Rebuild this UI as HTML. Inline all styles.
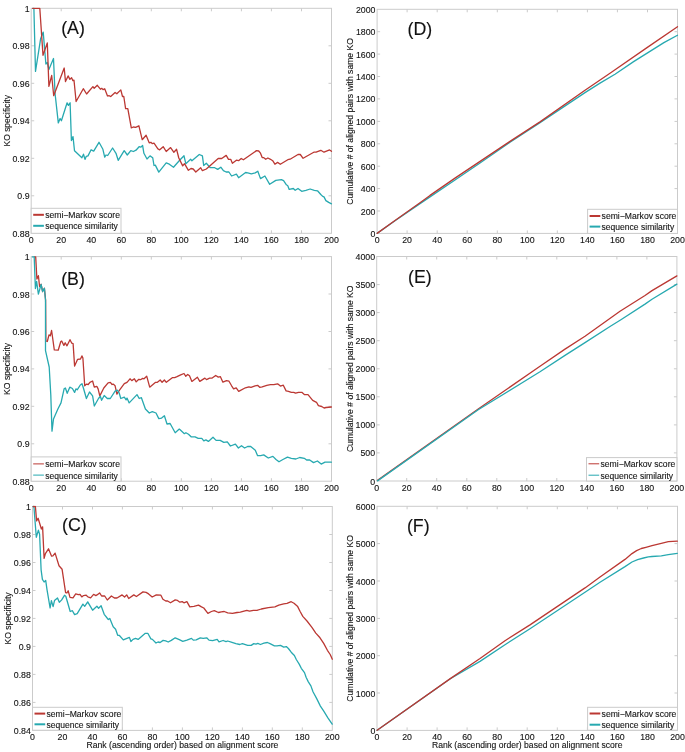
<!DOCTYPE html>
<html><head><meta charset="utf-8"><title>Figure</title>
<style>
html,body{margin:0;padding:0;background:#fff;}
body{width:685px;height:752px;overflow:hidden;}
svg{display:block;will-change:transform;}
svg text{font-family:"Liberation Sans", sans-serif;fill:#111111;font-size:8.8px;stroke:#222;stroke-width:0.12px;}
</style></head>
<body>
<svg width="685" height="752" viewBox="0 0 685 752">
<rect width="685" height="752" fill="#fff"/>
<clipPath id="cA"><rect x="30.2" y="7.3" width="302.3" height="227.0"/></clipPath>
<rect x="31.2" y="8.3" width="300.3" height="225.0" fill="none" stroke="#cbcbcb" stroke-width="1.0"/>
<text x="31.2" y="242.8" text-anchor="middle">0</text>
<line x1="61.2" y1="233.3" x2="61.2" y2="230.3" stroke="#cbcbcb" stroke-width="1"/>
<line x1="61.2" y1="8.3" x2="61.2" y2="11.3" stroke="#cbcbcb" stroke-width="1"/>
<text x="61.2" y="242.8" text-anchor="middle">20</text>
<line x1="91.3" y1="233.3" x2="91.3" y2="230.3" stroke="#cbcbcb" stroke-width="1"/>
<line x1="91.3" y1="8.3" x2="91.3" y2="11.3" stroke="#cbcbcb" stroke-width="1"/>
<text x="91.3" y="242.8" text-anchor="middle">40</text>
<line x1="121.3" y1="233.3" x2="121.3" y2="230.3" stroke="#cbcbcb" stroke-width="1"/>
<line x1="121.3" y1="8.3" x2="121.3" y2="11.3" stroke="#cbcbcb" stroke-width="1"/>
<text x="121.3" y="242.8" text-anchor="middle">60</text>
<line x1="151.3" y1="233.3" x2="151.3" y2="230.3" stroke="#cbcbcb" stroke-width="1"/>
<line x1="151.3" y1="8.3" x2="151.3" y2="11.3" stroke="#cbcbcb" stroke-width="1"/>
<text x="151.3" y="242.8" text-anchor="middle">80</text>
<line x1="181.3" y1="233.3" x2="181.3" y2="230.3" stroke="#cbcbcb" stroke-width="1"/>
<line x1="181.3" y1="8.3" x2="181.3" y2="11.3" stroke="#cbcbcb" stroke-width="1"/>
<text x="181.3" y="242.8" text-anchor="middle">100</text>
<line x1="211.4" y1="233.3" x2="211.4" y2="230.3" stroke="#cbcbcb" stroke-width="1"/>
<line x1="211.4" y1="8.3" x2="211.4" y2="11.3" stroke="#cbcbcb" stroke-width="1"/>
<text x="211.4" y="242.8" text-anchor="middle">120</text>
<line x1="241.4" y1="233.3" x2="241.4" y2="230.3" stroke="#cbcbcb" stroke-width="1"/>
<line x1="241.4" y1="8.3" x2="241.4" y2="11.3" stroke="#cbcbcb" stroke-width="1"/>
<text x="241.4" y="242.8" text-anchor="middle">140</text>
<line x1="271.4" y1="233.3" x2="271.4" y2="230.3" stroke="#cbcbcb" stroke-width="1"/>
<line x1="271.4" y1="8.3" x2="271.4" y2="11.3" stroke="#cbcbcb" stroke-width="1"/>
<text x="271.4" y="242.8" text-anchor="middle">160</text>
<line x1="301.5" y1="233.3" x2="301.5" y2="230.3" stroke="#cbcbcb" stroke-width="1"/>
<line x1="301.5" y1="8.3" x2="301.5" y2="11.3" stroke="#cbcbcb" stroke-width="1"/>
<text x="301.5" y="242.8" text-anchor="middle">180</text>
<text x="331.5" y="242.8" text-anchor="middle">200</text>
<text x="29.6" y="236.8" text-anchor="end">0.88</text>
<line x1="31.2" y1="195.8" x2="34.2" y2="195.8" stroke="#cbcbcb" stroke-width="1"/>
<line x1="331.5" y1="195.8" x2="328.5" y2="195.8" stroke="#cbcbcb" stroke-width="1"/>
<text x="29.6" y="199.3" text-anchor="end">0.9</text>
<line x1="31.2" y1="158.3" x2="34.2" y2="158.3" stroke="#cbcbcb" stroke-width="1"/>
<line x1="331.5" y1="158.3" x2="328.5" y2="158.3" stroke="#cbcbcb" stroke-width="1"/>
<text x="29.6" y="161.8" text-anchor="end">0.92</text>
<line x1="31.2" y1="120.8" x2="34.2" y2="120.8" stroke="#cbcbcb" stroke-width="1"/>
<line x1="331.5" y1="120.8" x2="328.5" y2="120.8" stroke="#cbcbcb" stroke-width="1"/>
<text x="29.6" y="124.3" text-anchor="end">0.94</text>
<line x1="31.2" y1="83.3" x2="34.2" y2="83.3" stroke="#cbcbcb" stroke-width="1"/>
<line x1="331.5" y1="83.3" x2="328.5" y2="83.3" stroke="#cbcbcb" stroke-width="1"/>
<text x="29.6" y="86.8" text-anchor="end">0.96</text>
<line x1="31.2" y1="45.8" x2="34.2" y2="45.8" stroke="#cbcbcb" stroke-width="1"/>
<line x1="331.5" y1="45.8" x2="328.5" y2="45.8" stroke="#cbcbcb" stroke-width="1"/>
<text x="29.6" y="49.3" text-anchor="end">0.98</text>
<text x="29.6" y="11.8" text-anchor="end">1</text>
<g clip-path="url(#cA)">
<polyline points="32.7,8.3 33.9,8.5 35.5,71.4 40.6,38.8 43.2,32.1 45.9,64.0 47.3,62.5 48.9,69.5 53.5,58.5 55.0,93.0 58.3,122.9 60.1,118.5 61.4,120.7 67.1,102.8 68.4,105.4 70.1,102.8 71.4,140.6 73.0,136.6 74.5,150.7 81.9,157.7 83.5,154.2 85.0,159.4 86.3,156.3 88.0,155.9 91.1,149.8 93.7,151.1 99.0,142.3 102.9,149.3 104.7,157.2 106.0,155.0 107.7,155.5 112.6,148.0 116.0,153.3 118.2,160.3 124.2,150.7 127.3,155.0 130.8,150.7 133.4,151.5 136.0,150.2 139.1,146.7 140.8,147.2 142.6,145.4 143.9,153.3 147.0,159.0 150.0,155.9 152.7,157.7 154.0,165.5 155.3,165.1 158.8,172.1 166.2,162.9 169.3,164.2 173.5,167.2 180.1,159.8 184.0,155.8 185.8,163.7 190.6,159.3 191.9,160.7 199.3,154.5 202.4,155.8 203.7,165.5 206.3,163.3 210.3,167.7 214.7,167.7 217.7,169.4 220.8,167.2 223.4,170.7 226.1,172.0 228.9,172.0 231.6,176.0 236.4,174.2 238.6,177.7 245.6,172.5 247.8,172.9 251.3,173.8 255.2,172.9 257.8,171.2 260.5,178.6 264.9,176.0 269.7,184.3 275.8,180.4 281.4,179.6 283.6,180.6 286.4,184.8 287.8,185.7 289.2,189.4 293.3,188.5 295.2,190.3 298.0,188.5 301.7,191.3 305.9,190.3 310.1,189.0 314.3,190.3 317.5,190.8 320.8,194.5 322.7,196.4 324.0,196.9 325.9,200.6 328.7,202.4 331.5,203.8" fill="none" stroke="#27a9b0" stroke-width="1.3" stroke-linejoin="round" stroke-linecap="round"/>
<polyline points="32.7,8.3 39.8,8.3 43.0,55.3 47.3,42.9 48.9,86.4 51.7,75.5 53.7,95.7 64.2,68.0 65.5,81.6 68.1,75.9 69.9,79.4 71.6,77.7 72.9,80.7 74.0,80.2 76.1,101.5 83.3,88.7 86.6,94.0 92.9,86.6 94.2,88.3 97.3,85.3 100.4,89.2 101.7,88.3 103.0,89.6 104.7,88.8 107.5,96.0 108.9,95.6 110.7,96.5 115.1,92.5 116.8,93.8 120.8,89.9 122.5,96.5 123.8,96.5 125.6,108.7 127.8,108.7 131.3,127.8 133.4,127.0 135.6,127.4 138.9,125.8 142.2,139.7 146.1,135.3 149.2,142.8 150.9,142.3 152.2,143.6 154.0,143.2 157.9,148.9 159.7,149.8 163.2,146.7 166.2,151.5 170.6,147.6 173.9,152.3 176.6,149.3 178.8,158.0 182.7,165.9 184.5,163.7 188.4,170.3 191.0,168.5 193.2,169.0 195.8,172.0 200.7,167.7 202.4,170.7 206.3,169.0 210.3,165.5 218.2,158.5 221.7,158.5 226.2,155.4 228.5,159.3 230.7,159.3 232.4,163.3 236.4,160.2 238.6,160.7 241.2,158.5 243.4,159.8 256.5,150.6 258.7,151.0 260.5,153.2 262.2,157.6 263.5,157.6 265.7,159.3 267.9,158.0 270.5,159.3 272.7,160.7 274.9,164.2 277.6,162.4 280.3,164.3 287.8,159.7 290.1,159.2 298.0,154.5 300.3,154.5 303.1,158.3 313.8,152.2 316.1,152.2 320.8,150.3 324.0,152.2 329.6,149.9 331.5,151.3" fill="none" stroke="#bb3833" stroke-width="1.3" stroke-linejoin="round" stroke-linecap="round"/>
</g>
<text transform="translate(9.6,120.8) rotate(-90)" text-anchor="middle" style="font-size:8.60px" textLength="51.4" lengthAdjust="spacingAndGlyphs">KO specificity</text>
<text x="61.2" y="33.7" style="font-size:17.8px">(A)</text>
<rect x="31.2" y="208.3" width="89.8" height="25.0" fill="#fff" stroke="#cbcbcb" stroke-width="1"/>
<line x1="33.2" y1="214.8" x2="43.9" y2="214.8" stroke="#bb3833" stroke-width="2.0"/>
<line x1="33.2" y1="225.8" x2="43.9" y2="225.8" stroke="#27a9b0" stroke-width="2.0"/>
<text x="45.2" y="218.2" style="font-size:8.6px" textLength="74.8" lengthAdjust="spacingAndGlyphs">semi&#8722;Markov score</text>
<text x="45.2" y="229.2" style="font-size:8.6px" textLength="72.6" lengthAdjust="spacingAndGlyphs">sequence similarity</text>
<clipPath id="cB"><rect x="30.2" y="255.6" width="302.3" height="226.6"/></clipPath>
<rect x="31.2" y="256.6" width="300.3" height="224.6" fill="none" stroke="#cbcbcb" stroke-width="1.0"/>
<text x="31.2" y="490.7" text-anchor="middle">0</text>
<line x1="61.2" y1="481.2" x2="61.2" y2="478.2" stroke="#cbcbcb" stroke-width="1"/>
<line x1="61.2" y1="256.6" x2="61.2" y2="259.6" stroke="#cbcbcb" stroke-width="1"/>
<text x="61.2" y="490.7" text-anchor="middle">20</text>
<line x1="91.3" y1="481.2" x2="91.3" y2="478.2" stroke="#cbcbcb" stroke-width="1"/>
<line x1="91.3" y1="256.6" x2="91.3" y2="259.6" stroke="#cbcbcb" stroke-width="1"/>
<text x="91.3" y="490.7" text-anchor="middle">40</text>
<line x1="121.3" y1="481.2" x2="121.3" y2="478.2" stroke="#cbcbcb" stroke-width="1"/>
<line x1="121.3" y1="256.6" x2="121.3" y2="259.6" stroke="#cbcbcb" stroke-width="1"/>
<text x="121.3" y="490.7" text-anchor="middle">60</text>
<line x1="151.3" y1="481.2" x2="151.3" y2="478.2" stroke="#cbcbcb" stroke-width="1"/>
<line x1="151.3" y1="256.6" x2="151.3" y2="259.6" stroke="#cbcbcb" stroke-width="1"/>
<text x="151.3" y="490.7" text-anchor="middle">80</text>
<line x1="181.3" y1="481.2" x2="181.3" y2="478.2" stroke="#cbcbcb" stroke-width="1"/>
<line x1="181.3" y1="256.6" x2="181.3" y2="259.6" stroke="#cbcbcb" stroke-width="1"/>
<text x="181.3" y="490.7" text-anchor="middle">100</text>
<line x1="211.4" y1="481.2" x2="211.4" y2="478.2" stroke="#cbcbcb" stroke-width="1"/>
<line x1="211.4" y1="256.6" x2="211.4" y2="259.6" stroke="#cbcbcb" stroke-width="1"/>
<text x="211.4" y="490.7" text-anchor="middle">120</text>
<line x1="241.4" y1="481.2" x2="241.4" y2="478.2" stroke="#cbcbcb" stroke-width="1"/>
<line x1="241.4" y1="256.6" x2="241.4" y2="259.6" stroke="#cbcbcb" stroke-width="1"/>
<text x="241.4" y="490.7" text-anchor="middle">140</text>
<line x1="271.4" y1="481.2" x2="271.4" y2="478.2" stroke="#cbcbcb" stroke-width="1"/>
<line x1="271.4" y1="256.6" x2="271.4" y2="259.6" stroke="#cbcbcb" stroke-width="1"/>
<text x="271.4" y="490.7" text-anchor="middle">160</text>
<line x1="301.5" y1="481.2" x2="301.5" y2="478.2" stroke="#cbcbcb" stroke-width="1"/>
<line x1="301.5" y1="256.6" x2="301.5" y2="259.6" stroke="#cbcbcb" stroke-width="1"/>
<text x="301.5" y="490.7" text-anchor="middle">180</text>
<text x="331.5" y="490.7" text-anchor="middle">200</text>
<text x="29.6" y="484.7" text-anchor="end">0.88</text>
<line x1="31.2" y1="443.8" x2="34.2" y2="443.8" stroke="#cbcbcb" stroke-width="1"/>
<line x1="331.5" y1="443.8" x2="328.5" y2="443.8" stroke="#cbcbcb" stroke-width="1"/>
<text x="29.6" y="447.3" text-anchor="end">0.9</text>
<line x1="31.2" y1="406.3" x2="34.2" y2="406.3" stroke="#cbcbcb" stroke-width="1"/>
<line x1="331.5" y1="406.3" x2="328.5" y2="406.3" stroke="#cbcbcb" stroke-width="1"/>
<text x="29.6" y="409.8" text-anchor="end">0.92</text>
<line x1="31.2" y1="368.9" x2="34.2" y2="368.9" stroke="#cbcbcb" stroke-width="1"/>
<line x1="331.5" y1="368.9" x2="328.5" y2="368.9" stroke="#cbcbcb" stroke-width="1"/>
<text x="29.6" y="372.4" text-anchor="end">0.94</text>
<line x1="31.2" y1="331.5" x2="34.2" y2="331.5" stroke="#cbcbcb" stroke-width="1"/>
<line x1="331.5" y1="331.5" x2="328.5" y2="331.5" stroke="#cbcbcb" stroke-width="1"/>
<text x="29.6" y="335.0" text-anchor="end">0.96</text>
<line x1="31.2" y1="294.0" x2="34.2" y2="294.0" stroke="#cbcbcb" stroke-width="1"/>
<line x1="331.5" y1="294.0" x2="328.5" y2="294.0" stroke="#cbcbcb" stroke-width="1"/>
<text x="29.6" y="297.5" text-anchor="end">0.98</text>
<text x="29.6" y="260.1" text-anchor="end">1</text>
<g clip-path="url(#cB)">
<polyline points="34.5,256.9 35.7,256.9 36.9,279.0 38.4,275.7 39.6,286.7 41.1,284.3 42.6,291.5 44.4,288.2 45.6,300.0 45.9,341.0 47.3,341.5 49.0,334.9 50.3,335.8 51.6,330.5 54.3,349.8 58.2,350.2 60.8,341.5 61.7,341.0 63.9,345.4 65.2,342.8 67.0,345.8 70.0,339.7 71.8,343.2 73.1,343.6 74.6,366.1 77.5,359.4 80.5,359.0 81.9,355.9 82.9,358.0 84.7,385.8 86.4,384.1 88.2,384.5 89.9,382.3 92.6,381.0 94.3,387.2 96.8,386.3 98.1,388.9 99.8,395.9 103.8,388.0 108.1,382.8 110.3,382.3 112.1,384.5 113.4,384.1 115.1,385.8 116.9,394.2 119.5,390.2 124.3,383.7 127.0,382.3 130.0,378.8 131.8,380.6 134.4,378.8 136.2,381.9 138.8,379.3 140.5,379.7 142.7,378.4 144.0,378.8 146.7,376.2 149.7,387.2 155.6,382.3 157.4,382.3 160.2,380.0 162.1,382.3 164.4,380.0 166.3,382.3 172.3,377.7 174.7,377.7 177.0,376.7 180.7,374.9 184.0,373.5 185.8,376.3 187.7,374.4 189.5,375.8 191.9,381.4 197.4,377.2 199.8,381.4 204.9,378.1 206.5,379.6 209.6,378.1 212.2,378.1 215.7,375.5 218.3,377.1 220.3,376.6 222.9,382.2 226.5,380.7 229.0,381.2 231.6,385.8 233.6,388.8 236.2,387.8 238.7,391.4 245.4,387.8 248.9,386.8 251.0,387.3 255.1,385.8 257.6,385.3 259.7,387.3 262.2,386.8 266.8,385.3 270.4,384.7 273.8,384.7 277.6,383.8 280.4,386.1 283.3,385.2 286.1,390.9 288.5,391.3 291.3,392.3 293.7,392.3 295.6,393.2 298.5,392.3 301.8,392.3 304.6,394.7 308.0,394.7 312.7,400.4 316.5,402.3 318.4,405.6 321.7,406.5 324.1,408.0 326.0,407.5 331.4,407.0" fill="none" stroke="#bb3833" stroke-width="1.3" stroke-linejoin="round" stroke-linecap="round"/>
<polyline points="32.4,256.9 34.2,256.9 35.4,288.5 36.6,281.3 38.4,294.2 41.1,284.3 42.6,291.5 44.4,288.2 45.5,300.0 45.5,350.7 49.2,367.0 50.8,395.0 52.0,431.2 53.5,419.0 58.0,408.8 61.0,402.9 64.1,388.9 65.4,388.0 67.2,393.3 69.8,387.2 72.4,388.5 74.6,392.4 75.9,388.9 77.2,389.8 80.3,385.0 82.0,383.7 83.4,388.0 86.4,398.5 89.5,392.0 92.6,395.9 94.3,406.0 98.5,398.5 100.3,396.3 101.6,400.3 104.2,395.5 107.3,398.5 110.3,398.5 115.1,391.1 117.3,390.2 119.1,392.8 120.8,398.5 124.3,397.2 126.1,399.9 127.0,398.1 129.2,402.9 137.0,394.6 139.2,398.5 141.4,397.7 145.4,409.0 149.3,413.0 152.3,411.6 156.0,413.0 158.8,418.6 161.6,418.1 164.4,415.8 167.0,424.0 170.1,423.5 175.2,432.7 179.3,429.1 184.4,433.7 185.9,432.7 188.5,434.2 191.1,436.8 195.1,436.8 198.2,438.3 201.8,438.3 203.8,440.9 205.9,439.9 208.4,441.4 213.0,437.3 216.1,440.4 220.2,440.4 223.8,442.4 227.3,441.9 230.4,446.0 235.4,444.2 238.4,448.0 241.5,445.7 244.6,448.0 247.6,446.5 250.7,446.5 255.3,450.3 257.6,455.7 260.7,455.7 263.7,454.9 268.3,458.0 272.9,456.4 276.0,459.5 279.0,461.8 282.9,459.5 287.5,457.2 291.3,458.4 295.9,459.0 299.7,457.5 304.3,458.3 306.6,460.0 309.7,460.0 313.5,462.6 317.4,461.0 321.2,464.1 325.0,462.1 331.4,462.2" fill="none" stroke="#27a9b0" stroke-width="1.3" stroke-linejoin="round" stroke-linecap="round"/>
</g>
<text transform="translate(9.6,368.9) rotate(-90)" text-anchor="middle" style="font-size:8.60px" textLength="52.0" lengthAdjust="spacingAndGlyphs">KO specificity</text>
<text x="61.2" y="284.6" style="font-size:17.8px">(B)</text>
<rect x="31.2" y="456.9" width="89.8" height="24.3" fill="#fff" stroke="#cbcbcb" stroke-width="1"/>
<line x1="33.2" y1="463.9" x2="43.9" y2="463.9" stroke="#bb3833" stroke-width="1.0"/>
<line x1="33.2" y1="475.1" x2="43.9" y2="475.1" stroke="#27a9b0" stroke-width="1.0"/>
<text x="45.2" y="467.3" style="font-size:8.6px" textLength="74.8" lengthAdjust="spacingAndGlyphs">semi&#8722;Markov score</text>
<text x="45.2" y="478.5" style="font-size:8.6px" textLength="72.6" lengthAdjust="spacingAndGlyphs">sequence similarity</text>
<clipPath id="cC"><rect x="31.5" y="505.5" width="301.8" height="225.9"/></clipPath>
<rect x="32.5" y="506.5" width="299.8" height="223.9" fill="none" stroke="#cbcbcb" stroke-width="1.0"/>
<text x="32.5" y="739.9" text-anchor="middle">0</text>
<line x1="62.5" y1="730.4" x2="62.5" y2="727.4" stroke="#cbcbcb" stroke-width="1"/>
<line x1="62.5" y1="506.5" x2="62.5" y2="509.5" stroke="#cbcbcb" stroke-width="1"/>
<text x="62.5" y="739.9" text-anchor="middle">20</text>
<line x1="92.5" y1="730.4" x2="92.5" y2="727.4" stroke="#cbcbcb" stroke-width="1"/>
<line x1="92.5" y1="506.5" x2="92.5" y2="509.5" stroke="#cbcbcb" stroke-width="1"/>
<text x="92.5" y="739.9" text-anchor="middle">40</text>
<line x1="122.4" y1="730.4" x2="122.4" y2="727.4" stroke="#cbcbcb" stroke-width="1"/>
<line x1="122.4" y1="506.5" x2="122.4" y2="509.5" stroke="#cbcbcb" stroke-width="1"/>
<text x="122.4" y="739.9" text-anchor="middle">60</text>
<line x1="152.4" y1="730.4" x2="152.4" y2="727.4" stroke="#cbcbcb" stroke-width="1"/>
<line x1="152.4" y1="506.5" x2="152.4" y2="509.5" stroke="#cbcbcb" stroke-width="1"/>
<text x="152.4" y="739.9" text-anchor="middle">80</text>
<line x1="182.4" y1="730.4" x2="182.4" y2="727.4" stroke="#cbcbcb" stroke-width="1"/>
<line x1="182.4" y1="506.5" x2="182.4" y2="509.5" stroke="#cbcbcb" stroke-width="1"/>
<text x="182.4" y="739.9" text-anchor="middle">100</text>
<line x1="212.4" y1="730.4" x2="212.4" y2="727.4" stroke="#cbcbcb" stroke-width="1"/>
<line x1="212.4" y1="506.5" x2="212.4" y2="509.5" stroke="#cbcbcb" stroke-width="1"/>
<text x="212.4" y="739.9" text-anchor="middle">120</text>
<line x1="242.4" y1="730.4" x2="242.4" y2="727.4" stroke="#cbcbcb" stroke-width="1"/>
<line x1="242.4" y1="506.5" x2="242.4" y2="509.5" stroke="#cbcbcb" stroke-width="1"/>
<text x="242.4" y="739.9" text-anchor="middle">140</text>
<line x1="272.3" y1="730.4" x2="272.3" y2="727.4" stroke="#cbcbcb" stroke-width="1"/>
<line x1="272.3" y1="506.5" x2="272.3" y2="509.5" stroke="#cbcbcb" stroke-width="1"/>
<text x="272.3" y="739.9" text-anchor="middle">160</text>
<line x1="302.3" y1="730.4" x2="302.3" y2="727.4" stroke="#cbcbcb" stroke-width="1"/>
<line x1="302.3" y1="506.5" x2="302.3" y2="509.5" stroke="#cbcbcb" stroke-width="1"/>
<text x="302.3" y="739.9" text-anchor="middle">180</text>
<text x="332.3" y="739.9" text-anchor="middle">200</text>
<text x="30.9" y="733.9" text-anchor="end">0.84</text>
<line x1="32.5" y1="702.4" x2="35.5" y2="702.4" stroke="#cbcbcb" stroke-width="1"/>
<line x1="332.3" y1="702.4" x2="329.3" y2="702.4" stroke="#cbcbcb" stroke-width="1"/>
<text x="30.9" y="705.9" text-anchor="end">0.86</text>
<line x1="32.5" y1="674.4" x2="35.5" y2="674.4" stroke="#cbcbcb" stroke-width="1"/>
<line x1="332.3" y1="674.4" x2="329.3" y2="674.4" stroke="#cbcbcb" stroke-width="1"/>
<text x="30.9" y="677.9" text-anchor="end">0.88</text>
<line x1="32.5" y1="646.4" x2="35.5" y2="646.4" stroke="#cbcbcb" stroke-width="1"/>
<line x1="332.3" y1="646.4" x2="329.3" y2="646.4" stroke="#cbcbcb" stroke-width="1"/>
<text x="30.9" y="649.9" text-anchor="end">0.9</text>
<line x1="32.5" y1="618.4" x2="35.5" y2="618.4" stroke="#cbcbcb" stroke-width="1"/>
<line x1="332.3" y1="618.4" x2="329.3" y2="618.4" stroke="#cbcbcb" stroke-width="1"/>
<text x="30.9" y="621.9" text-anchor="end">0.92</text>
<line x1="32.5" y1="590.5" x2="35.5" y2="590.5" stroke="#cbcbcb" stroke-width="1"/>
<line x1="332.3" y1="590.5" x2="329.3" y2="590.5" stroke="#cbcbcb" stroke-width="1"/>
<text x="30.9" y="594.0" text-anchor="end">0.94</text>
<line x1="32.5" y1="562.5" x2="35.5" y2="562.5" stroke="#cbcbcb" stroke-width="1"/>
<line x1="332.3" y1="562.5" x2="329.3" y2="562.5" stroke="#cbcbcb" stroke-width="1"/>
<text x="30.9" y="566.0" text-anchor="end">0.96</text>
<line x1="32.5" y1="534.5" x2="35.5" y2="534.5" stroke="#cbcbcb" stroke-width="1"/>
<line x1="332.3" y1="534.5" x2="329.3" y2="534.5" stroke="#cbcbcb" stroke-width="1"/>
<text x="30.9" y="538.0" text-anchor="end">0.98</text>
<text x="30.9" y="510.0" text-anchor="end">1</text>
<g clip-path="url(#cC)">
<polyline points="33.0,506.5 33.9,506.5 36.3,537.3 38.4,530.1 39.6,534.3 41.1,569.8 42.4,579.4 44.1,582.0 45.7,580.4 47.0,589.6 50.1,608.0 51.4,600.6 53.1,606.7 54.5,600.6 57.5,598.0 59.3,602.3 61.5,600.1 64.5,595.3 65.8,596.2 70.2,611.5 72.4,610.7 74.6,614.6 77.2,613.7 82.9,604.1 84.7,606.3 87.7,601.9 92.6,610.2 96.9,606.3 98.6,608.2 101.1,605.7 104.2,614.3 108.3,619.5 109.8,618.4 113.2,626.8 115.6,629.2 117.7,635.3 119.2,635.3 123.3,639.9 129.4,637.4 130.9,641.5 133.0,639.4 135.5,638.4 138.1,639.4 145.3,633.3 147.8,633.3 150.9,638.9 152.4,639.4 156.0,643.0 158.0,642.0 160.1,642.5 163.1,640.4 165.7,640.9 168.2,642.0 171.3,640.4 175.2,637.8 179.3,639.6 182.8,641.3 186.9,640.1 191.5,638.4 193.3,640.1 196.2,639.8 200.3,637.8 203.2,638.4 206.7,637.8 209.0,640.1 212.6,640.7 217.2,639.3 219.0,641.9 223.1,640.5 226.0,641.7 227.7,641.0 231.2,642.1 235.9,643.6 239.8,644.5 242.4,643.6 247.7,645.4 251.2,645.4 253.8,643.6 256.0,644.1 257.8,643.4 260.4,644.5 263.9,643.2 267.4,642.5 270.0,643.6 274.4,645.8 277.0,645.8 280.5,645.4 283.7,647.1 286.3,646.6 288.4,648.5 291.2,652.2 294.4,655.5 296.3,659.5 299.2,664.1 301.3,668.3 304.5,672.6 306.1,677.3 308.2,681.6 310.9,685.9 313.0,691.7 316.7,698.6 320.4,706.1 323.6,710.9 327.9,717.8 332.2,724.1" fill="none" stroke="#27a9b0" stroke-width="1.3" stroke-linejoin="round" stroke-linecap="round"/>
<polyline points="33.3,506.5 35.4,506.5 36.6,520.9 38.1,518.2 41.4,529.0 42.6,526.9 44.1,558.4 45.4,553.6 48.5,548.8 51.6,556.2 52.9,555.8 55.1,553.1 59.0,565.8 62.1,569.3 65.6,592.6 66.9,593.0 68.2,590.8 70.0,597.4 73.0,597.8 75.7,593.9 78.3,594.7 80.0,594.3 81.8,596.9 83.5,595.6 86.2,595.2 87.9,596.9 90.6,597.8 93.6,594.3 95.8,595.6 97.0,594.9 99.6,592.9 101.6,596.0 104.7,596.0 107.3,600.0 111.4,596.0 114.4,598.0 117.0,598.0 122.1,594.9 124.6,597.0 126.7,594.9 128.7,598.5 133.8,594.9 136.4,596.5 143.0,591.9 146.1,592.4 148.6,593.9 152.2,597.0 156.3,594.9 160.9,595.2 162.9,599.3 165.8,601.0 167.6,601.0 170.5,602.8 175.2,599.9 177.5,600.4 179.9,602.2 182.2,601.6 183.9,602.8 186.9,601.6 189.8,606.9 193.9,606.3 198.5,605.1 201.5,606.9 203.8,608.0 207.9,613.3 211.4,611.5 214.3,610.6 218.4,612.5 221.3,611.8 224.2,611.5 227.7,612.9 232.4,613.3 237.1,612.5 240.3,612.1 246.8,610.3 249.5,611.2 253.4,610.3 256.9,610.3 261.3,609.0 268.3,607.7 274.9,606.8 278.8,605.1 283.7,603.8 287.0,603.4 291.2,601.7 294.0,603.2 297.7,606.6 300.0,611.3 302.8,616.4 307.0,621.0 312.1,627.6 315.8,633.1 320.0,637.8 323.7,643.4 327.4,650.3 330.2,654.5 332.3,659.2" fill="none" stroke="#bb3833" stroke-width="1.3" stroke-linejoin="round" stroke-linecap="round"/>
</g>
<text transform="translate(11.0,618.5) rotate(-90)" text-anchor="middle" style="font-size:8.60px" textLength="52.2" lengthAdjust="spacingAndGlyphs">KO specificity</text>
<text x="62.1" y="531.1" style="font-size:17.8px">(C)</text>
<rect x="32.5" y="707.3" width="89.8" height="22.9" fill="#fff" stroke="#cbcbcb" stroke-width="1"/>
<line x1="34.5" y1="713.6" x2="45.2" y2="713.6" stroke="#bb3833" stroke-width="2.0"/>
<line x1="34.5" y1="724.3" x2="45.2" y2="724.3" stroke="#27a9b0" stroke-width="2.0"/>
<text x="46.5" y="717.0" style="font-size:8.6px" textLength="74.8" lengthAdjust="spacingAndGlyphs">semi&#8722;Markov score</text>
<text x="46.5" y="727.7" style="font-size:8.6px" textLength="72.6" lengthAdjust="spacingAndGlyphs">sequence similarity</text>
<text x="182.4" y="747.8" text-anchor="middle" style="font-size:8.6px" textLength="192.0" lengthAdjust="spacingAndGlyphs">Rank (ascending order) based on alignment score</text>
<clipPath id="cD"><rect x="376.1" y="8.3" width="302.4" height="226.1"/></clipPath>
<rect x="377.1" y="9.3" width="300.4" height="224.1" fill="none" stroke="#cbcbcb" stroke-width="1.0"/>
<text x="377.1" y="242.9" text-anchor="middle">0</text>
<line x1="407.1" y1="233.4" x2="407.1" y2="230.4" stroke="#cbcbcb" stroke-width="1"/>
<line x1="407.1" y1="9.3" x2="407.1" y2="12.3" stroke="#cbcbcb" stroke-width="1"/>
<text x="407.1" y="242.9" text-anchor="middle">20</text>
<line x1="437.2" y1="233.4" x2="437.2" y2="230.4" stroke="#cbcbcb" stroke-width="1"/>
<line x1="437.2" y1="9.3" x2="437.2" y2="12.3" stroke="#cbcbcb" stroke-width="1"/>
<text x="437.2" y="242.9" text-anchor="middle">40</text>
<line x1="467.2" y1="233.4" x2="467.2" y2="230.4" stroke="#cbcbcb" stroke-width="1"/>
<line x1="467.2" y1="9.3" x2="467.2" y2="12.3" stroke="#cbcbcb" stroke-width="1"/>
<text x="467.2" y="242.9" text-anchor="middle">60</text>
<line x1="497.3" y1="233.4" x2="497.3" y2="230.4" stroke="#cbcbcb" stroke-width="1"/>
<line x1="497.3" y1="9.3" x2="497.3" y2="12.3" stroke="#cbcbcb" stroke-width="1"/>
<text x="497.3" y="242.9" text-anchor="middle">80</text>
<line x1="527.3" y1="233.4" x2="527.3" y2="230.4" stroke="#cbcbcb" stroke-width="1"/>
<line x1="527.3" y1="9.3" x2="527.3" y2="12.3" stroke="#cbcbcb" stroke-width="1"/>
<text x="527.3" y="242.9" text-anchor="middle">100</text>
<line x1="557.3" y1="233.4" x2="557.3" y2="230.4" stroke="#cbcbcb" stroke-width="1"/>
<line x1="557.3" y1="9.3" x2="557.3" y2="12.3" stroke="#cbcbcb" stroke-width="1"/>
<text x="557.3" y="242.9" text-anchor="middle">120</text>
<line x1="587.4" y1="233.4" x2="587.4" y2="230.4" stroke="#cbcbcb" stroke-width="1"/>
<line x1="587.4" y1="9.3" x2="587.4" y2="12.3" stroke="#cbcbcb" stroke-width="1"/>
<text x="587.4" y="242.9" text-anchor="middle">140</text>
<line x1="617.4" y1="233.4" x2="617.4" y2="230.4" stroke="#cbcbcb" stroke-width="1"/>
<line x1="617.4" y1="9.3" x2="617.4" y2="12.3" stroke="#cbcbcb" stroke-width="1"/>
<text x="617.4" y="242.9" text-anchor="middle">160</text>
<line x1="647.5" y1="233.4" x2="647.5" y2="230.4" stroke="#cbcbcb" stroke-width="1"/>
<line x1="647.5" y1="9.3" x2="647.5" y2="12.3" stroke="#cbcbcb" stroke-width="1"/>
<text x="647.5" y="242.9" text-anchor="middle">180</text>
<text x="677.5" y="242.9" text-anchor="middle">200</text>
<text x="375.5" y="236.9" text-anchor="end">0</text>
<line x1="377.1" y1="211.0" x2="380.1" y2="211.0" stroke="#cbcbcb" stroke-width="1"/>
<line x1="677.5" y1="211.0" x2="674.5" y2="211.0" stroke="#cbcbcb" stroke-width="1"/>
<text x="375.5" y="214.5" text-anchor="end">200</text>
<line x1="377.1" y1="188.6" x2="380.1" y2="188.6" stroke="#cbcbcb" stroke-width="1"/>
<line x1="677.5" y1="188.6" x2="674.5" y2="188.6" stroke="#cbcbcb" stroke-width="1"/>
<text x="375.5" y="192.1" text-anchor="end">400</text>
<line x1="377.1" y1="166.2" x2="380.1" y2="166.2" stroke="#cbcbcb" stroke-width="1"/>
<line x1="677.5" y1="166.2" x2="674.5" y2="166.2" stroke="#cbcbcb" stroke-width="1"/>
<text x="375.5" y="169.7" text-anchor="end">600</text>
<line x1="377.1" y1="143.8" x2="380.1" y2="143.8" stroke="#cbcbcb" stroke-width="1"/>
<line x1="677.5" y1="143.8" x2="674.5" y2="143.8" stroke="#cbcbcb" stroke-width="1"/>
<text x="375.5" y="147.3" text-anchor="end">800</text>
<line x1="377.1" y1="121.4" x2="380.1" y2="121.4" stroke="#cbcbcb" stroke-width="1"/>
<line x1="677.5" y1="121.4" x2="674.5" y2="121.4" stroke="#cbcbcb" stroke-width="1"/>
<text x="375.5" y="124.9" text-anchor="end">1000</text>
<line x1="377.1" y1="98.9" x2="380.1" y2="98.9" stroke="#cbcbcb" stroke-width="1"/>
<line x1="677.5" y1="98.9" x2="674.5" y2="98.9" stroke="#cbcbcb" stroke-width="1"/>
<text x="375.5" y="102.4" text-anchor="end">1200</text>
<line x1="377.1" y1="76.5" x2="380.1" y2="76.5" stroke="#cbcbcb" stroke-width="1"/>
<line x1="677.5" y1="76.5" x2="674.5" y2="76.5" stroke="#cbcbcb" stroke-width="1"/>
<text x="375.5" y="80.0" text-anchor="end">1400</text>
<line x1="377.1" y1="54.1" x2="380.1" y2="54.1" stroke="#cbcbcb" stroke-width="1"/>
<line x1="677.5" y1="54.1" x2="674.5" y2="54.1" stroke="#cbcbcb" stroke-width="1"/>
<text x="375.5" y="57.6" text-anchor="end">1600</text>
<line x1="377.1" y1="31.7" x2="380.1" y2="31.7" stroke="#cbcbcb" stroke-width="1"/>
<line x1="677.5" y1="31.7" x2="674.5" y2="31.7" stroke="#cbcbcb" stroke-width="1"/>
<text x="375.5" y="35.2" text-anchor="end">1800</text>
<text x="375.5" y="12.8" text-anchor="end">2000</text>
<g clip-path="url(#cD)">
<polyline points="377.1,233.4 395.0,220.7 420.0,203.6 430.0,196.9 455.0,180.0 480.0,163.0 510.0,142.2 540.0,122.6 585.0,92.6 600.0,83.1 615.0,74.2 633.6,61.6 663.9,42.6 677.5,35.2" fill="none" stroke="#27a9b0" stroke-width="1.3" stroke-linejoin="round" stroke-linecap="round"/>
<polyline points="377.1,233.4 395.0,220.5 420.0,202.7 430.0,195.4 455.0,178.1 510.0,141.4 540.0,121.9 585.0,90.2 610.0,73.2 647.0,47.6 677.5,26.7" fill="none" stroke="#bb3833" stroke-width="1.3" stroke-linejoin="round" stroke-linecap="round"/>
</g>
<text transform="translate(352.6,121.4) rotate(-90)" text-anchor="middle" style="font-size:8.60px" textLength="166.6" lengthAdjust="spacingAndGlyphs">Cumulative # of aligned pairs with same KO</text>
<text x="407.6" y="34.7" style="font-size:17.8px">(D)</text>
<rect x="587.6" y="209.3" width="89.9" height="24.1" fill="#fff" stroke="#cbcbcb" stroke-width="1"/>
<line x1="589.6" y1="216.0" x2="600.3" y2="216.0" stroke="#bb3833" stroke-width="2.0"/>
<line x1="589.6" y1="226.6" x2="600.3" y2="226.6" stroke="#27a9b0" stroke-width="2.0"/>
<text x="601.6" y="219.4" style="font-size:8.6px" textLength="74.8" lengthAdjust="spacingAndGlyphs">semi&#8722;Markov score</text>
<text x="601.6" y="230.0" style="font-size:8.6px" textLength="72.6" lengthAdjust="spacingAndGlyphs">sequence similarity</text>
<clipPath id="cE"><rect x="375.7" y="255.5" width="302.2" height="226.5"/></clipPath>
<rect x="376.7" y="256.5" width="300.2" height="224.5" fill="none" stroke="#cbcbcb" stroke-width="1.0"/>
<text x="376.7" y="490.5" text-anchor="middle">0</text>
<line x1="406.7" y1="481.0" x2="406.7" y2="478.0" stroke="#cbcbcb" stroke-width="1"/>
<line x1="406.7" y1="256.5" x2="406.7" y2="259.5" stroke="#cbcbcb" stroke-width="1"/>
<text x="406.7" y="490.5" text-anchor="middle">20</text>
<line x1="436.7" y1="481.0" x2="436.7" y2="478.0" stroke="#cbcbcb" stroke-width="1"/>
<line x1="436.7" y1="256.5" x2="436.7" y2="259.5" stroke="#cbcbcb" stroke-width="1"/>
<text x="436.7" y="490.5" text-anchor="middle">40</text>
<line x1="466.8" y1="481.0" x2="466.8" y2="478.0" stroke="#cbcbcb" stroke-width="1"/>
<line x1="466.8" y1="256.5" x2="466.8" y2="259.5" stroke="#cbcbcb" stroke-width="1"/>
<text x="466.8" y="490.5" text-anchor="middle">60</text>
<line x1="496.8" y1="481.0" x2="496.8" y2="478.0" stroke="#cbcbcb" stroke-width="1"/>
<line x1="496.8" y1="256.5" x2="496.8" y2="259.5" stroke="#cbcbcb" stroke-width="1"/>
<text x="496.8" y="490.5" text-anchor="middle">80</text>
<line x1="526.8" y1="481.0" x2="526.8" y2="478.0" stroke="#cbcbcb" stroke-width="1"/>
<line x1="526.8" y1="256.5" x2="526.8" y2="259.5" stroke="#cbcbcb" stroke-width="1"/>
<text x="526.8" y="490.5" text-anchor="middle">100</text>
<line x1="556.8" y1="481.0" x2="556.8" y2="478.0" stroke="#cbcbcb" stroke-width="1"/>
<line x1="556.8" y1="256.5" x2="556.8" y2="259.5" stroke="#cbcbcb" stroke-width="1"/>
<text x="556.8" y="490.5" text-anchor="middle">120</text>
<line x1="586.8" y1="481.0" x2="586.8" y2="478.0" stroke="#cbcbcb" stroke-width="1"/>
<line x1="586.8" y1="256.5" x2="586.8" y2="259.5" stroke="#cbcbcb" stroke-width="1"/>
<text x="586.8" y="490.5" text-anchor="middle">140</text>
<line x1="616.9" y1="481.0" x2="616.9" y2="478.0" stroke="#cbcbcb" stroke-width="1"/>
<line x1="616.9" y1="256.5" x2="616.9" y2="259.5" stroke="#cbcbcb" stroke-width="1"/>
<text x="616.9" y="490.5" text-anchor="middle">160</text>
<line x1="646.9" y1="481.0" x2="646.9" y2="478.0" stroke="#cbcbcb" stroke-width="1"/>
<line x1="646.9" y1="256.5" x2="646.9" y2="259.5" stroke="#cbcbcb" stroke-width="1"/>
<text x="646.9" y="490.5" text-anchor="middle">180</text>
<text x="676.9" y="490.5" text-anchor="middle">200</text>
<text x="375.1" y="484.5" text-anchor="end">0</text>
<line x1="376.7" y1="452.9" x2="379.7" y2="452.9" stroke="#cbcbcb" stroke-width="1"/>
<line x1="676.9" y1="452.9" x2="673.9" y2="452.9" stroke="#cbcbcb" stroke-width="1"/>
<text x="375.1" y="456.4" text-anchor="end">500</text>
<line x1="376.7" y1="424.9" x2="379.7" y2="424.9" stroke="#cbcbcb" stroke-width="1"/>
<line x1="676.9" y1="424.9" x2="673.9" y2="424.9" stroke="#cbcbcb" stroke-width="1"/>
<text x="375.1" y="428.4" text-anchor="end">1000</text>
<line x1="376.7" y1="396.8" x2="379.7" y2="396.8" stroke="#cbcbcb" stroke-width="1"/>
<line x1="676.9" y1="396.8" x2="673.9" y2="396.8" stroke="#cbcbcb" stroke-width="1"/>
<text x="375.1" y="400.3" text-anchor="end">1500</text>
<line x1="376.7" y1="368.8" x2="379.7" y2="368.8" stroke="#cbcbcb" stroke-width="1"/>
<line x1="676.9" y1="368.8" x2="673.9" y2="368.8" stroke="#cbcbcb" stroke-width="1"/>
<text x="375.1" y="372.2" text-anchor="end">2000</text>
<line x1="376.7" y1="340.7" x2="379.7" y2="340.7" stroke="#cbcbcb" stroke-width="1"/>
<line x1="676.9" y1="340.7" x2="673.9" y2="340.7" stroke="#cbcbcb" stroke-width="1"/>
<text x="375.1" y="344.2" text-anchor="end">2500</text>
<line x1="376.7" y1="312.6" x2="379.7" y2="312.6" stroke="#cbcbcb" stroke-width="1"/>
<line x1="676.9" y1="312.6" x2="673.9" y2="312.6" stroke="#cbcbcb" stroke-width="1"/>
<text x="375.1" y="316.1" text-anchor="end">3000</text>
<line x1="376.7" y1="284.6" x2="379.7" y2="284.6" stroke="#cbcbcb" stroke-width="1"/>
<line x1="676.9" y1="284.6" x2="673.9" y2="284.6" stroke="#cbcbcb" stroke-width="1"/>
<text x="375.1" y="288.1" text-anchor="end">3500</text>
<text x="375.1" y="260.0" text-anchor="end">4000</text>
<g clip-path="url(#cE)">
<polyline points="377.5,480.4 478.2,409.0 540.0,366.3 565.0,349.1 585.0,336.3 620.0,311.3 645.0,295.5 652.0,290.6 676.9,275.9" fill="none" stroke="#bb3833" stroke-width="1.3" stroke-linejoin="round" stroke-linecap="round"/>
<polyline points="377.5,480.9 478.2,409.8 540.0,371.7 565.0,355.4 585.0,342.6 610.0,326.5 620.9,319.7 645.0,304.1 652.0,299.2 676.9,284.1" fill="none" stroke="#27a9b0" stroke-width="1.3" stroke-linejoin="round" stroke-linecap="round"/>
</g>
<text transform="translate(352.6,368.8) rotate(-90)" text-anchor="middle" style="font-size:8.60px" textLength="166.6" lengthAdjust="spacingAndGlyphs">Cumulative # of aligned pairs with same KO</text>
<text x="408.0" y="283.2" style="font-size:17.8px">(E)</text>
<rect x="586.5" y="457.6" width="90.4" height="23.4" fill="#fff" stroke="#cbcbcb" stroke-width="1"/>
<line x1="588.5" y1="463.8" x2="599.2" y2="463.8" stroke="#bb3833" stroke-width="1.0"/>
<line x1="588.5" y1="475.2" x2="599.2" y2="475.2" stroke="#27a9b0" stroke-width="1.0"/>
<text x="600.5" y="467.2" style="font-size:8.6px" textLength="74.8" lengthAdjust="spacingAndGlyphs">semi&#8722;Markov score</text>
<text x="600.5" y="478.6" style="font-size:8.6px" textLength="72.6" lengthAdjust="spacingAndGlyphs">sequence similarity</text>
<clipPath id="cF"><rect x="376.0" y="505.3" width="302.5" height="226.1"/></clipPath>
<rect x="377.0" y="506.3" width="300.5" height="224.1" fill="none" stroke="#cbcbcb" stroke-width="1.0"/>
<text x="377.0" y="739.9" text-anchor="middle">0</text>
<line x1="407.1" y1="730.4" x2="407.1" y2="727.4" stroke="#cbcbcb" stroke-width="1"/>
<line x1="407.1" y1="506.3" x2="407.1" y2="509.3" stroke="#cbcbcb" stroke-width="1"/>
<text x="407.1" y="739.9" text-anchor="middle">20</text>
<line x1="437.1" y1="730.4" x2="437.1" y2="727.4" stroke="#cbcbcb" stroke-width="1"/>
<line x1="437.1" y1="506.3" x2="437.1" y2="509.3" stroke="#cbcbcb" stroke-width="1"/>
<text x="437.1" y="739.9" text-anchor="middle">40</text>
<line x1="467.1" y1="730.4" x2="467.1" y2="727.4" stroke="#cbcbcb" stroke-width="1"/>
<line x1="467.1" y1="506.3" x2="467.1" y2="509.3" stroke="#cbcbcb" stroke-width="1"/>
<text x="467.1" y="739.9" text-anchor="middle">60</text>
<line x1="497.2" y1="730.4" x2="497.2" y2="727.4" stroke="#cbcbcb" stroke-width="1"/>
<line x1="497.2" y1="506.3" x2="497.2" y2="509.3" stroke="#cbcbcb" stroke-width="1"/>
<text x="497.2" y="739.9" text-anchor="middle">80</text>
<line x1="527.2" y1="730.4" x2="527.2" y2="727.4" stroke="#cbcbcb" stroke-width="1"/>
<line x1="527.2" y1="506.3" x2="527.2" y2="509.3" stroke="#cbcbcb" stroke-width="1"/>
<text x="527.2" y="739.9" text-anchor="middle">100</text>
<line x1="557.3" y1="730.4" x2="557.3" y2="727.4" stroke="#cbcbcb" stroke-width="1"/>
<line x1="557.3" y1="506.3" x2="557.3" y2="509.3" stroke="#cbcbcb" stroke-width="1"/>
<text x="557.3" y="739.9" text-anchor="middle">120</text>
<line x1="587.4" y1="730.4" x2="587.4" y2="727.4" stroke="#cbcbcb" stroke-width="1"/>
<line x1="587.4" y1="506.3" x2="587.4" y2="509.3" stroke="#cbcbcb" stroke-width="1"/>
<text x="587.4" y="739.9" text-anchor="middle">140</text>
<line x1="617.4" y1="730.4" x2="617.4" y2="727.4" stroke="#cbcbcb" stroke-width="1"/>
<line x1="617.4" y1="506.3" x2="617.4" y2="509.3" stroke="#cbcbcb" stroke-width="1"/>
<text x="617.4" y="739.9" text-anchor="middle">160</text>
<line x1="647.5" y1="730.4" x2="647.5" y2="727.4" stroke="#cbcbcb" stroke-width="1"/>
<line x1="647.5" y1="506.3" x2="647.5" y2="509.3" stroke="#cbcbcb" stroke-width="1"/>
<text x="647.5" y="739.9" text-anchor="middle">180</text>
<text x="677.5" y="739.9" text-anchor="middle">200</text>
<text x="375.4" y="733.9" text-anchor="end">0</text>
<line x1="377.0" y1="693.0" x2="380.0" y2="693.0" stroke="#cbcbcb" stroke-width="1"/>
<line x1="677.5" y1="693.0" x2="674.5" y2="693.0" stroke="#cbcbcb" stroke-width="1"/>
<text x="375.4" y="696.5" text-anchor="end">1000</text>
<line x1="377.0" y1="655.7" x2="380.0" y2="655.7" stroke="#cbcbcb" stroke-width="1"/>
<line x1="677.5" y1="655.7" x2="674.5" y2="655.7" stroke="#cbcbcb" stroke-width="1"/>
<text x="375.4" y="659.2" text-anchor="end">2000</text>
<line x1="377.0" y1="618.4" x2="380.0" y2="618.4" stroke="#cbcbcb" stroke-width="1"/>
<line x1="677.5" y1="618.4" x2="674.5" y2="618.4" stroke="#cbcbcb" stroke-width="1"/>
<text x="375.4" y="621.9" text-anchor="end">3000</text>
<line x1="377.0" y1="581.0" x2="380.0" y2="581.0" stroke="#cbcbcb" stroke-width="1"/>
<line x1="677.5" y1="581.0" x2="674.5" y2="581.0" stroke="#cbcbcb" stroke-width="1"/>
<text x="375.4" y="584.5" text-anchor="end">4000</text>
<line x1="377.0" y1="543.6" x2="380.0" y2="543.6" stroke="#cbcbcb" stroke-width="1"/>
<line x1="677.5" y1="543.6" x2="674.5" y2="543.6" stroke="#cbcbcb" stroke-width="1"/>
<text x="375.4" y="547.1" text-anchor="end">5000</text>
<text x="375.4" y="509.8" text-anchor="end">6000</text>
<g clip-path="url(#cF)">
<polyline points="377.1,730.3 450.3,678.8 480.0,661.4 505.0,644.7 530.0,628.8 585.0,592.3 600.0,582.2 625.0,566.6 632.0,562.0 637.6,559.7 643.6,558.0 648.3,556.9 652.0,556.5 661.3,555.8 668.3,554.7 677.3,553.3" fill="none" stroke="#27a9b0" stroke-width="1.3" stroke-linejoin="round" stroke-linecap="round"/>
<polyline points="377.1,730.3 450.3,678.6 480.0,658.5 505.0,640.7 530.0,624.9 585.0,587.9 600.0,576.9 625.0,559.4 632.0,553.6 636.6,550.6 641.3,548.5 645.9,547.3 652.0,545.6 661.3,543.3 668.3,541.6 677.3,541.2" fill="none" stroke="#bb3833" stroke-width="1.3" stroke-linejoin="round" stroke-linecap="round"/>
</g>
<text transform="translate(352.6,618.4) rotate(-90)" text-anchor="middle" style="font-size:8.60px" textLength="166.6" lengthAdjust="spacingAndGlyphs">Cumulative # of aligned pairs with same KO</text>
<text x="406.9" y="531.5" style="font-size:17.8px">(F)</text>
<rect x="587.6" y="707.3" width="89.9" height="22.9" fill="#fff" stroke="#cbcbcb" stroke-width="1"/>
<line x1="589.6" y1="713.5" x2="600.3" y2="713.5" stroke="#bb3833" stroke-width="2.0"/>
<line x1="589.6" y1="724.7" x2="600.3" y2="724.7" stroke="#27a9b0" stroke-width="2.0"/>
<text x="601.6" y="716.9" style="font-size:8.6px" textLength="74.8" lengthAdjust="spacingAndGlyphs">semi&#8722;Markov score</text>
<text x="601.6" y="728.1" style="font-size:8.6px" textLength="72.6" lengthAdjust="spacingAndGlyphs">sequence similarity</text>
<text x="527.2" y="747.8" text-anchor="middle" style="font-size:8.6px" textLength="190.5" lengthAdjust="spacingAndGlyphs">Rank (ascending order) based on alignment score</text>
</svg>
</body></html>
